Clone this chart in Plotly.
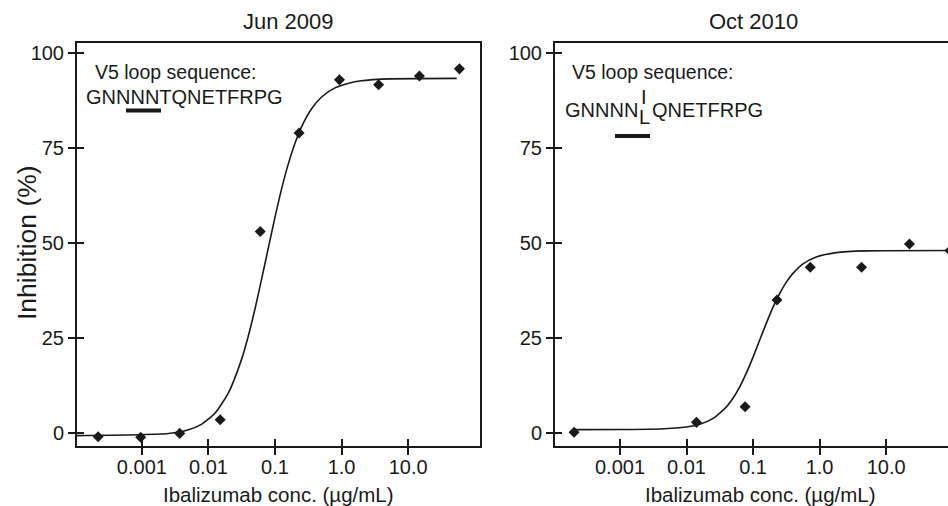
import plotly.graph_objects as go

W, H = 948, 506

# ---------------- data ----------------
tick_vals_x = [0.001, 0.01, 0.1, 1.0, 10.0]
tick_text_x = ["0.001", "0.01", "0.1", "1.0", "10.0"]
tick_vals_y = [0, 25, 50, 75, 100]

# Jun 2009 panel: measured points
conc_jun = [0.00022, 0.00096, 0.0037, 0.015, 0.060, 0.23, 0.93, 3.6, 14.8, 59.0]
inh_jun = [-1.0, -1.1, -0.1, 3.5, 53.0, 78.9, 92.9, 91.6, 93.9, 95.8]
# Jun 2009 panel: fitted curve
fit_conc_jun = [0.000106, 0.00251, 0.00501, 0.00794, 0.01259, 0.01995, 0.03162,
                0.03981, 0.05012, 0.06310, 0.07943, 0.1, 0.1259, 0.1585,
                0.1995, 0.2512, 0.3548, 0.5012, 0.7943, 1.585, 3.981, 53.7]
fit_inh_jun = [-0.7, -0.15, 0.84, 2.35, 5.25, 10.55, 19.5, 25.6, 32.7, 40.6,
               48.7, 56.8, 64.3, 70.8, 76.2, 80.6, 85.3, 88.4, 90.8, 92.4,
               93.1, 93.3]

# Oct 2010 panel: measured points
conc_oct = [0.000204, 0.0141, 0.0759, 0.229, 0.724, 4.27, 22.4, 91.0]
inh_oct = [0.2, 2.8, 6.9, 35.0, 43.6, 43.6, 49.7, 48.0]
# Oct 2010 panel: fitted curve
fit_conc_oct = [0.000204, 0.00398, 0.01, 0.01585, 0.02512, 0.03981, 0.05012,
                0.0631, 0.07943, 0.1, 0.1259, 0.1585, 0.1995, 0.2512, 0.3162,
                0.3981, 0.5623, 0.8913, 1.778, 5.012, 89.1]
fit_inh_oct = [0.9, 1.04, 1.56, 2.31, 3.86, 6.87, 9.19, 12.16, 15.8, 19.96,
               24.45, 28.9, 33.1, 36.7, 39.7, 42.0, 44.5, 46.3, 47.45, 47.9,
               48.0]

titles = ["Jun 2009", "Oct 2010"]
x_title = "Ibalizumab conc. (µg/mL)"
y_title = "Inhibition (%)"

# ---------------- helpers ----------------
def px(x):
    return x / W


def py(y):
    return 1 - y / H


INK = "#1a1a1a"
FONT = "Liberation Sans, Arial, Helvetica, sans-serif"

fig = go.Figure()

fig.add_trace(go.Scatter(x=fit_conc_jun, y=fit_inh_jun, mode="lines",
                         line=dict(color=INK, width=1.6, shape="spline", smoothing=0.6),
                         xaxis="x", yaxis="y", hoverinfo="skip"))
fig.add_trace(go.Scatter(x=conc_jun, y=inh_jun, mode="markers",
                         marker=dict(symbol="diamond", size=8.5, color=INK),
                         xaxis="x", yaxis="y"))
fig.add_trace(go.Scatter(x=fit_conc_oct, y=fit_inh_oct, mode="lines",
                         line=dict(color=INK, width=1.6, shape="spline", smoothing=0.6),
                         xaxis="x2", yaxis="y2", hoverinfo="skip"))
fig.add_trace(go.Scatter(x=conc_oct, y=inh_oct, mode="markers",
                         marker=dict(symbol="diamond", size=8.5, color=INK),
                         xaxis="x2", yaxis="y2"))


def xaxis_style(domain, rng, anchor):
    return dict(
        type="log", domain=domain, range=rng, anchor=anchor,
        tickmode="array", tickvals=tick_vals_x, ticktext=tick_text_x,
        ticks="outside", ticklen=7, tickwidth=2, tickcolor=INK,
        ticklabelstandoff=-5,
        showline=True, linewidth=2, linecolor=INK, mirror=True,
        showgrid=False, zeroline=False,
        tickfont=dict(family=FONT, size=20, color=INK),
        minor=dict(tickmode="array", tickvals=[v * 1.0005 for v in tick_vals_x],
                   ticks="inside", ticklen=7, tickwidth=2, tickcolor=INK,
                   showgrid=False),
    )


def yaxis_style(domain, anchor, mirror):
    return dict(
        domain=domain, range=[-3.42, 102.6], anchor=anchor,
        tickmode="array", tickvals=tick_vals_y,
        ticks="outside", ticklen=7, tickwidth=2, tickcolor=INK,
        showline=True, linewidth=2, linecolor=INK, mirror=mirror,
        showgrid=False, zeroline=False,
        tickfont=dict(family=FONT, size=20, color=INK),
        minor=dict(tickmode="array", tickvals=[v + 0.01 for v in tick_vals_y],
                   ticks="inside", ticklen=7, tickwidth=2, tickcolor=INK,
                   showgrid=False),
    )


ydom = [py(446), py(43)]
fig.update_layout(
    width=W, height=H,
    margin=dict(l=0, r=0, t=0, b=0),
    paper_bgcolor="white", plot_bgcolor="white",
    showlegend=False,
    font=dict(family=FONT, color=INK, size=19),
    xaxis=xaxis_style([px(77), px(480)], [-3.975, 2.08], "y"),
    yaxis=yaxis_style(ydom, "x", True),
    xaxis2=xaxis_style([px(555), 1.0], [-3.977, 1.93], "y2"),
    yaxis2=yaxis_style(ydom, "x2", False),
)

ann = []


def text(t, x, y, size, xanchor="center", yanchor="middle", angle=0):
    ann.append(dict(text=t, x=px(x), y=py(y), xref="paper", yref="paper",
                    xanchor=xanchor, yanchor=yanchor, showarrow=False,
                    borderpad=0, borderwidth=0,
                    textangle=angle, font=dict(family=FONT, size=size, color=INK)))


# panel titles
text(titles[0], 288, 22, 22)
text(titles[1], 753, 22, 22)
# axis titles
text(x_title, 278, 494, 20.5)
text(x_title, 760, 494, 20.5)
text(y_title, 27, 243, 26.5, angle=-90)
# sequence annotations, left
text("V5 loop sequence:", 95, 72, 19.5, xanchor="left")
text("GNNNNTQNETFRPG", 86, 97, 20, xanchor="left")
# sequence annotations, right
text("V5 loop sequence:", 572, 72, 19.5, xanchor="left")
text("GNNNN", 565, 110, 20, xanchor="left")
text("I", 643.5, 97, 20)
text("L", 644, 117, 20)
text("QNETFRPG", 652, 110, 20, xanchor="left")

fig.update_layout(annotations=ann)

fig.update_layout(shapes=[
    dict(type="line", xref="paper", yref="paper", x0=px(126), x1=px(161),
         y0=py(110.5), y1=py(110.5), line=dict(color=INK, width=4)),
    dict(type="line", xref="paper", yref="paper", x0=px(615), x1=px(650),
         y0=py(136), y1=py(136), line=dict(color=INK, width=4)),
])

fig.write_html(
    "out.html",
    config={"displayModeBar": False},
    post_script="document.body.style.margin='0';document.body.style.overflow='hidden';",
)
